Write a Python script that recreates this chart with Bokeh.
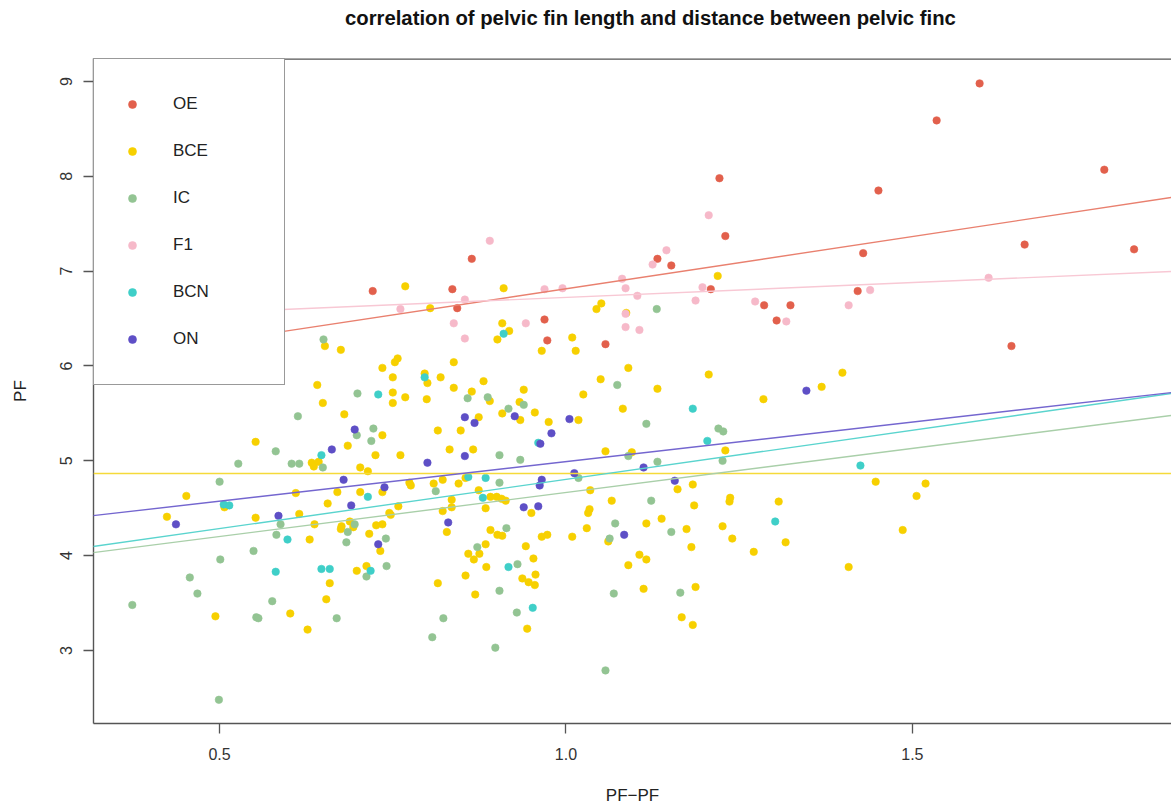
from bokeh.plotting import figure
from bokeh.models import Range1d, FixedTicker, CustomJSTickFormatter, Legend, LegendItem, Slope, Span, Div
from bokeh.layouts import column
from bokeh.embed import file_html
from bokeh.resources import INLINE

groups = ["OE", "BCE", "IC", "F1", "BCN", "ON"]
colors = ["#E2604C", "#F7D000", "#93C493", "#F6B9C9", "#3FCFC8", "#5E4FC6"]
line_colors = ["#E9806F", "#F5DA3A", "#A9CFA9", "#F8C8D4", "#5AD4CE", "#7466CF"]

title_text = "correlation of pelvic fin length and distance between pelvic finc"

# regression lines: intercept, slope
fit_intercept = [5.712, 4.866, 3.737, 6.410, 3.767, 4.157]
fit_slope = [1.102, 0.0, 0.929, 0.313, 1.037, 0.834]

oe_x = [0.721, 0.836, 0.843, 0.864, 0.969, 0.973, 1.057, 1.132, 1.152, 1.209, 1.2215, 1.230,
        1.286, 1.304, 1.324, 1.421, 1.429, 1.451, 1.535, 1.597, 1.643, 1.662, 1.777, 1.820]
oe_y = [6.79, 6.81, 6.61, 7.13, 6.49, 6.27, 6.23, 7.13, 7.06, 6.81, 7.98, 7.37,
        6.64, 6.48, 6.64, 6.79, 7.19, 7.85, 8.59, 8.98, 6.21, 7.28, 8.07, 7.23]

f1_x = [0.761, 0.838, 0.854, 0.854, 0.890, 0.942, 0.969, 0.995, 1.081, 1.086, 1.086, 1.086,
        1.103, 1.106, 1.125, 1.145, 1.187, 1.197, 1.206, 1.273, 1.318, 1.408, 1.439, 1.610]
f1_y = [6.60, 6.45, 6.70, 6.29, 7.32, 6.45, 6.81, 6.82, 6.92, 6.82, 6.55, 6.41,
        6.74, 6.38, 7.07, 7.22, 6.69, 6.83, 7.59, 6.68, 6.47, 6.64, 6.80, 6.93]

bcn_x = [0.506, 0.514, 0.581, 0.598, 0.647, 0.647, 0.659, 0.714, 0.718, 0.729, 0.796, 0.859,
         0.880, 0.884, 0.910, 0.917, 0.952, 0.960, 1.183, 1.204, 1.302, 1.425]
bcn_y = [4.54, 4.53, 3.83, 4.17, 5.06, 3.86, 3.86, 4.62, 3.84, 5.70, 5.88, 4.83,
         4.61, 4.82, 6.34, 3.88, 3.45, 5.19, 5.55, 5.21, 4.36, 4.95]

on_x = [0.437, 0.585, 0.662, 0.679, 0.690, 0.695, 0.729, 0.738, 0.800, 0.830, 0.854, 0.854,
        0.868, 0.926, 0.939, 0.960, 0.962, 0.963, 0.965, 0.979, 1.005, 1.012, 1.084, 1.112,
        1.157, 1.347]
on_y = [4.33, 4.42, 5.12, 4.80, 4.53, 5.33, 4.12, 4.72, 4.98, 4.35, 5.46, 5.05,
        5.40, 5.47, 4.51, 4.52, 4.74, 5.18, 4.80, 5.29, 5.44, 4.87, 4.22, 4.93,
        4.79, 5.74]

ic_x = [0.374, 0.457, 0.468, 0.499, 0.500, 0.501, 0.527, 0.549, 0.553, 0.556, 0.576, 0.581,
        0.582, 0.588, 0.604, 0.613, 0.615, 0.649, 0.650, 0.669, 0.683, 0.685, 0.695, 0.698,
        0.699, 0.712, 0.719, 0.722, 0.740, 0.741, 0.807, 0.812, 0.823, 0.858, 0.872, 0.887,
        0.898, 0.904, 0.904, 0.904, 0.914, 0.917, 0.929, 0.930, 0.934, 0.939, 1.018, 1.057,
        1.063, 1.069, 1.071, 1.074, 1.090, 1.116, 1.123, 1.131, 1.132, 1.152, 1.165, 1.220,
        1.226, 1.227]
ic_y = [3.48, 3.77, 3.60, 2.48, 4.78, 3.96, 4.97, 4.05, 3.35, 3.34, 3.52, 5.10,
        4.22, 4.33, 4.97, 5.47, 4.97, 4.93, 6.28, 3.34, 4.14, 4.25, 4.33, 5.27,
        5.71, 3.78, 5.21, 5.34, 4.18, 3.89, 3.14, 4.68, 3.34, 5.66, 4.09, 5.67,
        3.03, 5.06, 4.77, 3.63, 4.29, 5.55, 3.40, 3.91, 5.01, 5.59, 4.82, 2.79,
        4.18, 3.60, 4.34, 5.80, 5.05, 5.39, 4.58, 6.60, 4.99, 4.25, 3.61, 5.34,
        5.00, 5.31]

bce_x = [0.424, 0.452, 0.494, 0.507, 0.552, 0.552, 0.602, 0.610, 0.615, 0.627, 0.630, 0.633,
         0.636, 0.637, 0.641, 0.643, 0.649, 0.652, 0.654, 0.656, 0.659, 0.670, 0.675, 0.675,
         0.676, 0.680, 0.685, 0.688, 0.693, 0.698, 0.703, 0.703, 0.712, 0.714, 0.716, 0.725,
         0.726, 0.732, 0.735, 0.735, 0.735, 0.735, 0.745, 0.747, 0.750, 0.750, 0.750, 0.753,
         0.757, 0.758, 0.761, 0.768, 0.768, 0.774, 0.776, 0.796, 0.799, 0.800, 0.804, 0.809,
         0.815, 0.815, 0.819, 0.822, 0.822, 0.828, 0.832, 0.835, 0.835, 0.838, 0.838, 0.845,
         0.848, 0.855, 0.855, 0.859, 0.864, 0.866, 0.867, 0.869, 0.874, 0.874, 0.875, 0.881,
         0.884, 0.884, 0.885, 0.890, 0.891, 0.891, 0.900, 0.901, 0.901, 0.907, 0.908, 0.908,
         0.908, 0.910, 0.913, 0.918, 0.933, 0.934, 0.937, 0.939, 0.942, 0.944, 0.946, 0.950,
         0.953, 0.955, 0.955, 0.956, 0.965, 0.965, 0.973, 0.975, 1.009, 1.009, 1.014, 1.018,
         1.025, 1.030, 1.032, 1.034, 1.035, 1.044, 1.050, 1.051, 1.057, 1.061, 1.066, 1.082,
         1.087, 1.090, 1.090, 1.095, 1.106, 1.112, 1.116, 1.116, 1.132, 1.138, 1.161, 1.167,
         1.174, 1.181, 1.183, 1.183, 1.185, 1.187, 1.206, 1.219, 1.226, 1.230, 1.236, 1.237,
         1.240, 1.271, 1.285, 1.307, 1.317, 1.369, 1.399, 1.408, 1.447, 1.486, 1.506, 1.519]
bce_y = [4.41, 4.63, 3.36, 4.51, 5.20, 4.40, 3.39, 4.66, 4.44, 3.22, 4.17, 4.98,
         4.94, 4.33, 5.80, 4.99, 5.61, 6.21, 3.54, 4.55, 3.71, 4.67, 6.17, 4.28,
         4.31, 5.49, 5.16, 4.36, 4.30, 3.84, 4.93, 4.67, 3.89, 4.89, 4.23, 5.06,
         4.32, 4.05, 5.98, 5.27, 4.67, 4.33, 4.45, 4.43, 5.88, 5.72, 5.61, 6.04,
         6.08, 4.52, 5.06, 6.84, 5.67, 4.77, 4.74, 5.92, 5.65, 5.82, 6.61, 4.76,
         5.32, 3.71, 5.88, 4.80, 4.47, 4.25, 5.12, 4.59, 4.51, 6.04, 5.77, 4.76,
         5.32, 4.82, 3.79, 4.02, 5.73, 5.12, 3.96, 3.59, 5.46, 4.69, 4.02, 5.84,
         4.50, 4.12, 3.88, 5.63, 4.62, 4.27, 4.62, 6.28, 4.22, 4.60, 6.45, 5.50,
         4.21, 6.82, 4.58, 6.37, 5.62, 5.43, 3.76, 5.75, 4.10, 3.23, 3.72, 4.45,
         3.97, 5.51, 3.69, 3.80, 6.16, 4.20, 4.22, 5.41, 6.30, 4.20, 6.16, 5.43,
         5.70, 4.29, 4.45, 4.49, 4.69, 6.60, 5.86, 6.66, 5.10, 4.15, 4.58, 5.55,
         6.56, 5.98, 3.90, 5.09, 4.01, 3.65, 4.34, 3.96, 5.76, 4.39, 4.70, 3.35,
         4.28, 4.09, 4.75, 3.27, 4.53, 3.67, 5.91, 6.95, 4.31, 5.11, 4.57, 4.61,
         4.18, 4.04, 5.65, 4.57, 4.14, 5.78, 5.93, 3.88, 4.78, 4.27, 4.63, 4.76]

xs = [oe_x, bce_x, ic_x, f1_x, bcn_x, on_x]
ys = [oe_y, bce_y, ic_y, f1_y, bcn_y, on_y]

x_ticks = [0.5, 1.0, 1.5]
y_ticks = [3, 4, 5, 6, 7, 8, 9]
y_top = 9.2425

FONT = "Liberation Sans"

p = figure(width=1171, height=771, output_backend="svg", toolbar_location=None,
           x_range=Range1d(0.318, 1.874), y_range=Range1d(2.230, y_top),
           min_border_left=93, min_border_right=0, min_border_top=18, min_border_bottom=88)

p.xgrid.visible = False
p.ygrid.visible = False
p.background_fill_color = "white"
p.border_fill_color = "white"
p.outline_line_color = None

for ax in (p.xaxis[0], p.yaxis[0]):
    ax.axis_line_color = "#555555"
    ax.axis_line_width = 1.4
    ax.major_tick_line_color = "#555555"
    ax.major_tick_line_width = 1.3
    ax.major_tick_in = 0
    ax.major_tick_out = 10
    ax.minor_tick_line_color = None
    ax.major_label_text_font = FONT
    ax.major_label_text_font_size = "16px"
    ax.major_label_text_color = "#333333"
    ax.axis_label_text_font = FONT
    ax.axis_label_text_font_size = "17px"
    ax.axis_label_text_font_style = "normal"
    ax.axis_label_text_color = "#222222"

p.add_layout(Span(location=y_top, dimension="width", line_color="#555555", line_width=2.6))

p.xaxis.ticker = FixedTicker(ticks=x_ticks)
p.xaxis.formatter = CustomJSTickFormatter(code="return tick.toFixed(1);")
p.xaxis.axis_label = "PF\u2212PF"
p.xaxis.major_label_standoff = 14
p.xaxis.axis_label_standoff = 23

p.yaxis.ticker = FixedTicker(ticks=y_ticks)
p.yaxis.formatter = CustomJSTickFormatter(code="return tick.toFixed(0);")
p.yaxis.major_label_orientation = "vertical"
p.yaxis.axis_label = "PF"
p.yaxis.major_label_standoff = 11
p.yaxis.axis_label_standoff = 28

items = []
for g, c, lc, x, y, b0, b1 in zip(groups, colors, line_colors, xs, ys, fit_intercept, fit_slope):
    r = p.scatter(x, y, size=7.5, fill_color=c, line_color=c, line_alpha=0.6)
    items.append(LegendItem(label=g, renderers=[r]))
    p.add_layout(Slope(gradient=b1, y_intercept=b0, line_color=lc, line_width=1.4))

legend = Legend(items=items, location="top_left", margin=0, padding=28,
                spacing=13, glyph_width=20, glyph_height=34, label_height=34,
                label_width=83, label_standoff=31,
                label_text_font=FONT, label_text_font_size="17px", label_text_color="#222222",
                border_line_color="#333333", border_line_width=1.5,
                background_fill_color="white", background_fill_alpha=1.0)
p.add_layout(legend)

title_div = Div(text=title_text, width=1171, height=40, margin=0,
                styles={"font-family": FONT, "font-size": "20.3px", "font-weight": "bold",
                        "color": "#111111", "padding-left": "345px", "padding-top": "6px",
                        "line-height": "24px", "box-sizing": "border-box",
                        "background-color": "white", "white-space": "nowrap"})

layout = column(title_div, p, spacing=0)

open("out.html", "w").write(file_html(layout, INLINE))
